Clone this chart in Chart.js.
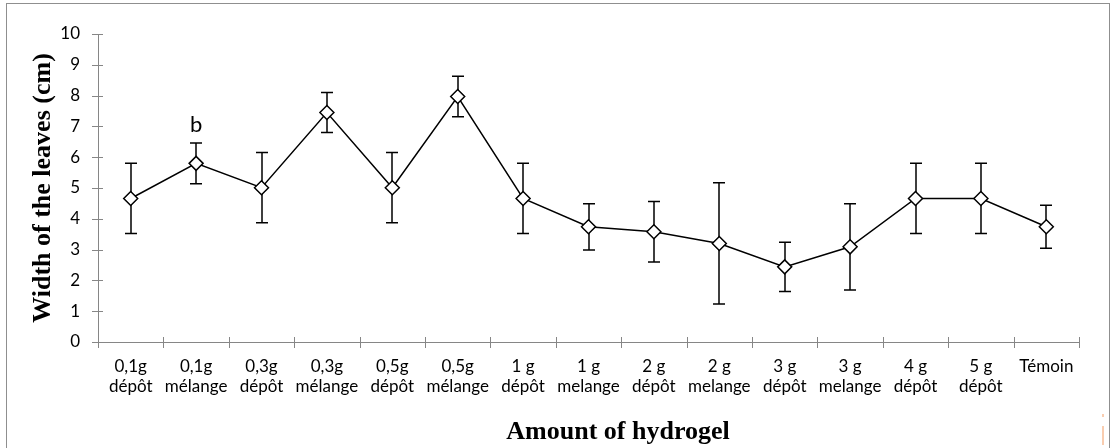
<!DOCTYPE html>
<html>
<head>
<meta charset="utf-8">
<script src="https://cdn.jsdelivr.net/npm/chart.js@4.4.1/dist/chart.umd.min.js"></script>
<style>
  html, body { margin: 0; padding: 0; background: #fff; }
  #wrap { width: 1111px; height: 448px; position: relative; }
</style>
</head>
<body>
<div id="wrap"><canvas id="c" width="1111" height="448"></canvas></div>
<script>
// ---- data ----
const categories = [
  ['0,1g', 'dépôt'], ['0,1g', 'mélange'], ['0,3g', 'dépôt'], ['0,3g', 'mélange'],
  ['0,5g', 'dépôt'], ['0,5g', 'mélange'], ['1 g', 'dépôt'], ['1 g', 'melange'],
  ['2 g', 'dépôt'], ['2 g', 'melange'], ['3 g', 'dépôt'], ['3 g', 'melange'],
  ['4 g', 'dépôt'], ['5 g', 'dépôt'], 'Témoin'
];
const leafWidth = [4.66, 5.80, 5.01, 7.45, 5.01, 7.97, 4.66, 3.74, 3.58, 3.20, 2.44, 3.09, 4.66, 4.66, 3.74];
const leafError = [1.14, 0.66, 1.14, 0.65, 1.14, 0.66, 1.14, 0.75, 0.98, 1.97, 0.80, 1.40, 1.14, 1.14, 0.70];
const annotations = [{ index: 1, text: 'b' }];
const yTitle = 'Width of the leaves (cm)';
const xTitle = 'Amount of hydrogel';

const AXIS = '#868686';

const decorPlugin = {
  id: 'decor',
  beforeDraw(chart) {
    const ctx = chart.ctx;
    ctx.save();
    ctx.fillStyle = '#fff';
    ctx.fillRect(0, 0, chart.width, chart.height);
    ctx.strokeStyle = '#8f8f8f';
    ctx.lineWidth = 1;
    ctx.strokeRect(6.5, 3.5, 1103, 470);
    ctx.fillStyle = '#f9cdb0';
    ctx.fillRect(1102, 414, 2, 3);
    ctx.fillRect(1102, 426, 2, 19);
    ctx.restore();
  },
  afterDraw(chart) {
    const ctx = chart.ctx;
    const xs = chart.scales.x, ys = chart.scales.y;
    const ca = chart.chartArea;
    ctx.save();
    ctx.strokeStyle = AXIS;
    ctx.lineWidth = 1;
    ys.ticks.forEach(t => {
      const y = Math.round(ys.getPixelForValue(t.value)) + 0.5;
      ctx.beginPath();
      ctx.moveTo(ca.left - 6, y);
      ctx.lineTo(ca.left + 5, y);
      ctx.stroke();
    });
    const n = categories.length;
    const step = (xs.getPixelForValue(1) - xs.getPixelForValue(0));
    for (let i = 0; i <= n; i++) {
      const x = Math.round(xs.getPixelForValue(0) - step / 2 + i * step) + 0.5;
      ctx.beginPath();
      ctx.moveTo(x, ca.bottom - 5);
      ctx.lineTo(x, ca.bottom + 6);
      ctx.stroke();
    }
    ctx.fillStyle = '#000';
    ctx.font = 'bold 26px "Liberation Serif", "Times New Roman", serif';
    ctx.textAlign = 'center';
    ctx.textBaseline = 'alphabetic';
    ctx.fillText(xTitle, 618, 439);
    ctx.save();
    ctx.translate(50, (ca.top + ca.bottom) / 2);
    ctx.rotate(-Math.PI / 2);
    ctx.fillText(yTitle, 0, 0);
    ctx.restore();
    ctx.font = '22px Lato, "Open Sans", sans-serif';
    ctx.textBaseline = 'alphabetic';
    const meta = chart.getDatasetMeta(0);
    annotations.forEach(a => {
      const p = meta.data[a.index];
      const top = ys.getPixelForValue(leafWidth[a.index] + leafError[a.index]);
      ctx.fillText(a.text, p.x, top - 11);
    });
    ctx.restore();
  },
  beforeDatasetsDraw(chart) {
    const ctx = chart.ctx;
    const ys = chart.scales.y;
    const meta = chart.getDatasetMeta(0);
    ctx.save();
    ctx.strokeStyle = '#000';
    ctx.lineWidth = 1.5;
    meta.data.forEach((p, i) => {
      const yt = ys.getPixelForValue(leafWidth[i] + leafError[i]);
      const yb = ys.getPixelForValue(leafWidth[i] - leafError[i]);
      const x = Math.round(p.x);
      ctx.beginPath();
      ctx.moveTo(x, yt); ctx.lineTo(x, yb);
      ctx.moveTo(x - 6, yt); ctx.lineTo(x + 6, yt);
      ctx.moveTo(x - 6, yb); ctx.lineTo(x + 6, yb);
      ctx.stroke();
    });
    ctx.restore();
  }
};

new Chart(document.getElementById('c'), {
  type: 'line',
  data: {
    labels: categories,
    datasets: [{
      data: leafWidth,
      borderColor: '#000',
      borderWidth: 1.5,
      pointStyle: 'rectRot',
      pointRadius: 7,
      pointBorderWidth: 1.5,
      pointBackgroundColor: '#fff',
      pointBorderColor: '#000',
      tension: 0,
      fill: false
    }]
  },
  options: {
    responsive: false,
    animation: false,
    events: [],
    layout: { padding: { top: 34, right: 32, left: 0, bottom: 0 } },
    plugins: { legend: { display: false }, tooltip: { enabled: false }, title: { display: false } },
    scales: {
      x: {
        type: 'category',
        offset: true,
        grid: { display: true, drawOnChartArea: false, drawTicks: false, color: 'rgba(0,0,0,0)' },
        border: { display: true, color: AXIS, width: 1 },
        ticks: {
          autoSkip: false, maxRotation: 0, minRotation: 0, padding: 15,
          color: '#000',
          font: { family: 'Lato, "Open Sans", sans-serif', size: 17, lineHeight: 1.15 }
        },
        afterFit(scale) { scale.height = 106; }
      },
      y: {
        min: 0, max: 10,
        grid: { display: true, drawOnChartArea: false, drawTicks: false, color: 'rgba(0,0,0,0)' },
        border: { display: true, color: AXIS, width: 1 },
        ticks: {
          stepSize: 1, padding: 18, color: '#000',
          font: { family: 'Lato, "Open Sans", sans-serif', size: 17 }
        },
        afterFit(scale) { scale.width = 98; }
      }
    }
  },
  plugins: [decorPlugin]
});
</script>
</body>
</html>
